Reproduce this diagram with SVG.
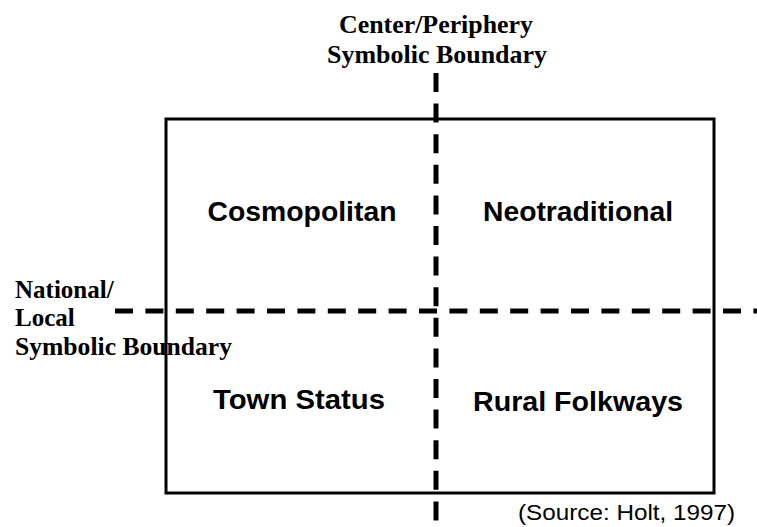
<svg xmlns="http://www.w3.org/2000/svg" width="757" height="527" viewBox="0 0 757 527">
  <style>
    .axis { font-family: "Liberation Serif", "Times New Roman", serif; font-weight: bold; font-size: 25px; fill: #000; }
    .quad { font-family: "Liberation Sans", Arial, sans-serif; font-weight: bold; font-size: 27px; fill: #000; text-anchor: middle; }
    .src { font-family: "Liberation Sans", Arial, sans-serif; font-size: 22px; fill: #000; }
    .frame { fill: none; stroke: #000; stroke-width: 3; }
    .boundary { fill: none; stroke: #000; stroke-width: 5; }
  </style>

  <rect width="757" height="527" fill="#fff"/>

  <!-- outer frame -->
  <g id="frame">
    <rect class="frame" x="166" y="119" width="548" height="374"/>
  </g>

  <!-- symbolic boundaries (dashed axes) -->
  <g id="connectors">
    <line class="boundary" x1="436" y1="73" x2="436" y2="522" stroke-dasharray="19 11.6"/>
    <line class="boundary" x1="115" y1="311" x2="757" y2="311" stroke-dasharray="18 12.4"/>
  </g>

  <!-- axis labels -->
  <g id="center-periphery">
    <text class="axis" x="436" y="33" text-anchor="middle" textLength="194" lengthAdjust="spacingAndGlyphs">Center/Periphery</text>
    <text class="axis" x="437" y="63" text-anchor="middle" textLength="220" lengthAdjust="spacingAndGlyphs">Symbolic Boundary</text>
  </g>
  <g id="national-local">
    <text class="axis" x="15" y="298">National/</text>
    <text class="axis" x="15" y="326">Local</text>
    <text class="axis" x="15" y="355" textLength="217" lengthAdjust="spacingAndGlyphs">Symbolic Boundary</text>
  </g>

  <!-- quadrants -->
  <g id="cosmopolitan">
    <text class="quad" x="302" y="221" textLength="189" lengthAdjust="spacingAndGlyphs">Cosmopolitan</text>
  </g>
  <g id="neotraditional">
    <text class="quad" x="578" y="221" textLength="190" lengthAdjust="spacingAndGlyphs">Neotraditional</text>
  </g>
  <g id="town-status">
    <text class="quad" x="299" y="409" textLength="172" lengthAdjust="spacingAndGlyphs">Town Status</text>
  </g>
  <g id="rural-folkways">
    <text class="quad" x="578" y="411" textLength="210" lengthAdjust="spacingAndGlyphs">Rural Folkways</text>
  </g>

  <!-- citation -->
  <g id="source">
    <text class="src" x="518" y="520" textLength="217" lengthAdjust="spacingAndGlyphs">(Source: Holt, 1997)</text>
  </g>
</svg>
